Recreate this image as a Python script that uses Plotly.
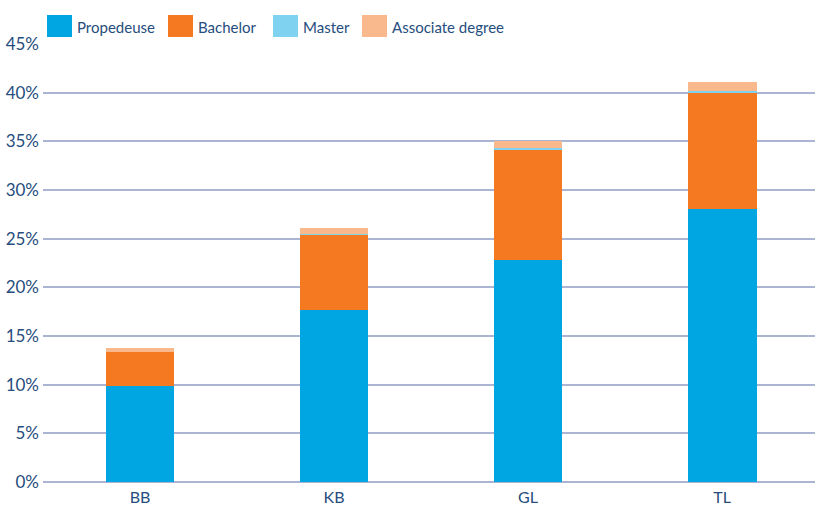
import plotly.graph_objects as go

categories = ["BB", "KB", "GL", "TL"]
propedeuse = [9.9, 17.7, 22.85, 28.05]
bachelor = [3.45, 7.7, 11.35, 12.0]
master = [0.0, 0.1, 0.15, 0.15]
associate = [0.4, 0.6, 0.7, 0.85]

series_names = ["Propedeuse", "Bachelor", "Master", "Associate degree"]
series_values = [propedeuse, bachelor, master, associate]
series_colors = ["#00a6e1", "#f47920", "#7fd3f0", "#f9b98d"]

font_family = "Lato, Roboto, sans-serif"
text_color = "#264d7d"

W, H = 815, 507
L, R, T, B = 43, 0, 44, 25
PW, PH = W - L - R, H - T - B


def px_x(px):
    return (px - L) / PW


def px_y(py):
    return (H - B - py) / PH


fig = go.Figure()
for name, vals, color in zip(series_names, series_values, series_colors):
    fig.add_trace(go.Bar(
        x=categories, y=vals, name=name,
        marker=dict(color=color, line=dict(width=0)),
        width=0.355,
    ))

# custom legend with large swatches (matching reference style)
legend_swatch_left = [47, 168, 273, 362]
for name, color, sx in zip(series_names, series_colors, legend_swatch_left):
    fig.add_shape(type="rect", xref="paper", yref="paper",
                  x0=px_x(sx), x1=px_x(sx + 25), y0=px_y(37), y1=px_y(15),
                  fillcolor=color, line=dict(width=0), layer="above")
    fig.add_annotation(xref="paper", yref="paper", x=px_x(sx + 28), y=px_y(27),
                       text=name, showarrow=False, xanchor="left", yanchor="middle",
                       font=dict(size=15, color=text_color, family=font_family))

fig.update_layout(
    barmode="stack",
    width=W, height=H,
    margin=dict(l=L, r=R, t=T, b=B, autoexpand=False),
    plot_bgcolor="white", paper_bgcolor="white",
    font=dict(family=font_family, color=text_color, size=17),
    showlegend=False,
    bargap=0.6,
)
fig.update_xaxes(range=[-0.5, 3.479], showgrid=False, ticks="", showline=False,
                 ticklabelstandoff=4,
                 tickfont=dict(size=16, color=text_color))
fig.update_yaxes(range=[0, 45], dtick=5, ticksuffix="%", showgrid=True,
                 gridcolor="#a9b5d2", gridwidth=1.5, zeroline=True,
                 zerolinecolor="#a9b5d2", zerolinewidth=1.5,
                 ticks="", ticklabelstandoff=3,
                 tickfont=dict(size=17, color=text_color))

fig.write_html("out.html", config={"displayModeBar": False},
               post_script="document.body.style.margin='0';document.body.style.overflow='hidden';")
